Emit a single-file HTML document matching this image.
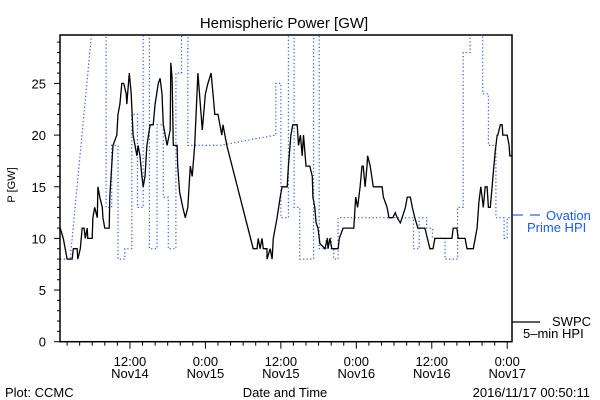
<!DOCTYPE html>
<html><head><meta charset="utf-8">
<style>
html,body{margin:0;padding:0;background:#fff;}
svg{display:block;font-family:"Liberation Sans",sans-serif;}
</style></head>
<body>
<svg id="chart" width="600" height="400" viewBox="0 0 600 400">
  <rect x="0" y="0" width="600" height="400" fill="#fff"/>
  <text x="284" y="28" font-size="15" text-anchor="middle">Hemispheric Power [GW]</text>
  <text x="15" y="185" font-size="11" text-anchor="middle" transform="rotate(-90 15 185)">P [GW]</text>
  <text x="285" y="397" font-size="13" text-anchor="middle">Date and Time</text>
  <text x="5" y="397" font-size="13">Plot: CCMC</text>
  <text x="590" y="397" font-size="13" text-anchor="end">2016/11/17 00:50:11</text>
  <defs><clipPath id="plotclip"><rect x="60" y="35" width="452" height="307"/></clipPath></defs>
  <g id="axes"></g>
  <g id="series" clip-path="url(#plotclip)"></g>
  <rect x="60" y="35" width="452" height="306.7" fill="none" stroke="#000" stroke-width="1.5"/>
  <g>
    <line x1="513" y1="215" x2="523" y2="215" stroke="#1a5cff" stroke-width="1.2"/>
    <line x1="530" y1="215" x2="540" y2="215" stroke="#1a5cff" stroke-width="1.2"/>
    <text x="546" y="220" font-size="13" fill="#1a5cff">Ovation</text>
    <text x="527" y="232" font-size="13" fill="#1a5cff">Prime HPI</text>
  </g>
  <g>
    <line x1="512" y1="322" x2="540" y2="322" stroke="#000" stroke-width="1.2"/>
    <text x="552" y="326" font-size="13">SWPC</text>
    <text x="523" y="338" font-size="13">5–min HPI</text>
  </g>
</svg>
<script>
// hours since 2016-11-14 00:00
const swpcTime = [0.9,1.4,1.7,2.0,2.8,3.0,3.6,3.7,4.1,4.4,4.7,4.9,5.2,5.3,6.0,6.1,6.4,6.8,6.9,7.2,7.6,7.7,8.0,8.7,8.8,9.1,9.3,9.9,10.1,10.4,10.7,11.0,11.4,11.5,11.9,12.2,12.5,12.8,13.1,13.3,13.6,13.9,14.1,14.4,14.7,15.2,15.7,16.0,16.5,16.8,17.1,17.3,17.9,18.4,18.5,18.7,18.9,19.5,19.6,19.9,20.4,20.8,21.2,21.6,21.9,22.3,22.8,23.5,24.0,24.4,24.9,25.2,25.5,26.0,26.3,26.6,26.8,27.1,27.4,31.6,32.2,32.4,32.7,33.0,33.2,33.8,33.8,34.3,34.6,34.8,35.4,35.9,36.2,37.0,37.2,37.6,37.9,38.6,38.8,39.1,39.4,39.6,40.0,40.6,41.0,41.1,41.4,41.6,41.9,42.2,43.0,43.4,43.5,43.8,44.1,45.1,45.3,45.9,47.6,47.9,48.2,48.6,48.9,49.1,49.4,49.7,49.8,50.2,50.7,52.1,52.3,52.9,53.2,53.8,54.2,54.5,55.0,55.3,55.8,56.1,56.6,56.9,57.3,57.8,58.9,59.3,59.7,60.2,60.5,63.2,63.4,64.0,64.2,65.3,65.6,66.6,66.9,67.2,67.5,67.8,68.0,68.2,68.5,68.8,69.0,69.3,69.6,69.8,70.1,70.4,70.5,70.9,71.2,71.3,72.0,72.3,72.4,72.8];
const swpcPower = [11,10,9,8,8,9,9,8,9,11,11,10,11,10,10,12,13,12,15,14,13,12,11,11,14,17,19,20,22,23,25,25,24,23,26,24,20,19,18,19,18,16,15,16,19,21,21,23,25,25.5,24,21,19,20.5,27,25.5,19,19,17,14.5,13,12,13,17,16,19,26,20.5,24,25,26,24,22,22,21,20,21,20,19,9,9,10,9,10,9,9,8,9,8,10,12,14,15,15,17,20,21,21,19,20,18,20,17,17,16,14,13,11.5,11,9.5,9,10,9,10,9,9,10,11,11,14,13,15,17,17,15,17,18,17,15,15,14,13,12,12,12.5,12,11.5,12,13,14,14,13,12,11,11,10,9,9,10,10,11,11,10,10,9,9,10,11,13.5,15,14,13,15,15,13,13,15,16.5,18.5,20,20,21,21,20,20,19,18,18];
const ovationTime = [0.9,2.5,6.4,8.2,8.2,9.1,9.1,10.1,10.1,11.2,11.2,12.3,12.3,13.2,13.2,14.1,14.1,15.1,15.1,16.3,16.3,17.3,17.3,18.1,18.1,19.3,19.3,20.2,20.2,21.2,21.2,26.3,35.2,35.2,36.0,36.0,37.2,37.2,38.1,38.1,39.0,39.0,41.2,41.2,42.1,42.1,43.2,43.2,44.0,44.0,44.4,44.4,45.1,45.1,57.1,57.1,58.0,58.0,59.2,59.2,60.1,60.1,62.1,62.1,64.1,64.1,65.0,65.0,66.1,66.1,68.1,68.1,69.0,69.0,70.2,70.2,71.5,71.5,72.0,72.0,72.8];
const ovationPower = [8,8,33,33,13,13,19,19,8,8,9,9,22,22,13,13,33,33,9,9,21,21,14,14,9,9,26,26,33,33,19,19,20,25,25,12,12,33,33,13,13,8,8,33,33,9,9,10,10,9,9,8,8,12,12,9,9,12,12,11,11,10,10,8,8,13,13,28,28,33,33,24,24,19,19,12,12,10,10,12,12];
const yTickLabels = ["0","5","10","15","20","25"];
const yTickValues = [0,5,10,15,20,25];
const xTickHours = [12,24,36,48,60,72];
const xTickTimes = ["12:00","0:00","12:00","0:00","12:00","0:00"];
const xTickDates = ["Nov14","Nov15","Nov15","Nov16","Nov16","Nov17"];

const NS = "http://www.w3.org/2000/svg";
const X0 = 54.5, XS = 6.288, Y0 = 341.7, YS = 10.33;
function xPx(h){ return X0 + h*XS; }
function yPx(v){ return Y0 - v*YS; }
function mk(tag, attrs){ const e=document.createElementNS(NS,tag); for(const k in attrs) e.setAttribute(k, attrs[k]); return e; }

const axes = document.getElementById('axes');
for(let v=0; v<=29; v++){
  const major = v%5===0;
  const t = mk('line',{x1:60-(major?6:3),x2:60,y1:yPx(v),y2:yPx(v),stroke:'#000','stroke-width':1});
  
  
  axes.appendChild(t);
}
yTickValues.forEach((v,i)=>{
  const t = mk('text',{x:46,y:yPx(v)+5,'font-size':13,'text-anchor':'end'});
  t.textContent = yTickLabels[i];
  
  
  axes.appendChild(t);
});
for(let h=2; h<=72; h+=2){
  const major = h%12===0;
  const t = mk('line',{x1:xPx(h),x2:xPx(h),y1:341.7,y2:341.7+(major?7:4),stroke:'#000','stroke-width':1});
  
  
  axes.appendChild(t);
}
xTickHours.forEach((h,i)=>{
  const a = mk('text',{x:xPx(h),y:366,'font-size':13,'text-anchor':'middle'});
  a.textContent = xTickTimes[i];
  
  
  axes.appendChild(a);
  const b = mk('text',{x:xPx(h),y:378,'font-size':13,'text-anchor':'middle'});
  b.textContent = xTickDates[i];
  
  
  axes.appendChild(b);
});

const series = document.getElementById('series');
const op = ovationTime.map((h,i)=>xPx(h).toFixed(1)+','+yPx(ovationPower[i]).toFixed(1)).join(' ');
const ol = mk('polyline',{points:op,fill:'none',stroke:'#1a5cff','stroke-width':1.2,'stroke-dasharray':'1.2,2.4'});


series.appendChild(ol);
const sp = swpcTime.map((h,i)=>xPx(h).toFixed(1)+','+yPx(swpcPower[i]).toFixed(1)).join(' ');
const sl = mk('polyline',{points:sp,fill:'none',stroke:'#000','stroke-width':1.3});


series.appendChild(sl);
</script>
</body></html>
